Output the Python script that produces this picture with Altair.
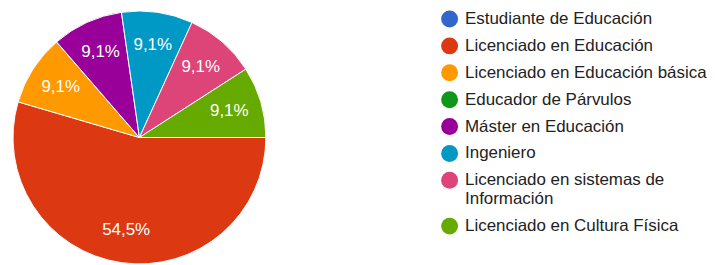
import math
import altair as alt
import pandas as pd

categories = [
    "Estudiante de Educación",
    "Licenciado en Educación",
    "Licenciado en Educación básica",
    "Educador de Párvulos",
    "Máster en Educación",
    "Ingeniero",
    "Licenciado en sistemas de Información",
    "Licenciado en Cultura Física",
]
counts = [0, 6, 1, 0, 1, 1, 1, 1]
colors = ["#3366cc", "#dc3912", "#ff9900", "#109618", "#990099", "#0099c6", "#dd4477", "#66aa00"]

total = sum(counts)
labels = [f"{c / total * 100:.1f}%".replace(".", ",") for c in counts]

df = pd.DataFrame({
    "cat": categories,
    "count": counts,
    "idx": list(range(len(categories))),
    "label": labels,
})

FONT = "Liberation Sans"

theta = alt.Theta("count:Q", stack=True,
                  scale=alt.Scale(range=[math.pi / 2, math.pi / 2 + 2 * math.pi]))
order = alt.Order("idx:Q", sort="ascending")

legend = alt.Legend(
    title=None, orient="none", legendX=435, legendY=0, padding=0,
    symbolType="circle", symbolSize=289, symbolStrokeWidth=0, symbolOpacity=1,
    labelFontSize=17, labelFont=FONT, labelColor="#222222", labelOffset=7,
    rowPadding=9, labelLimit=400,
    labelExpr="datum.label == 'Licenciado en sistemas de Información' ? ['Licenciado en sistemas de', 'Información'] : datum.label",
)

color = alt.Color("cat:N", scale=alt.Scale(domain=categories, range=colors), legend=legend)

base = alt.Chart(df)

pie = base.mark_arc(outerRadius=127, stroke="white", strokeWidth=1).encode(
    theta=theta, color=color, order=order
)

text = base.transform_filter("datum.count > 0").mark_text(
    radius=94, fontSize=17, font=FONT, color="white"
).encode(theta=theta, order=order, detail="cat:N", text="label:N")

chart = (pie + text).properties(width=264, height=255, padding=0).configure_view(stroke=None)

chart.save("out.html", embed_options={"renderer": "svg", "actions": False})
